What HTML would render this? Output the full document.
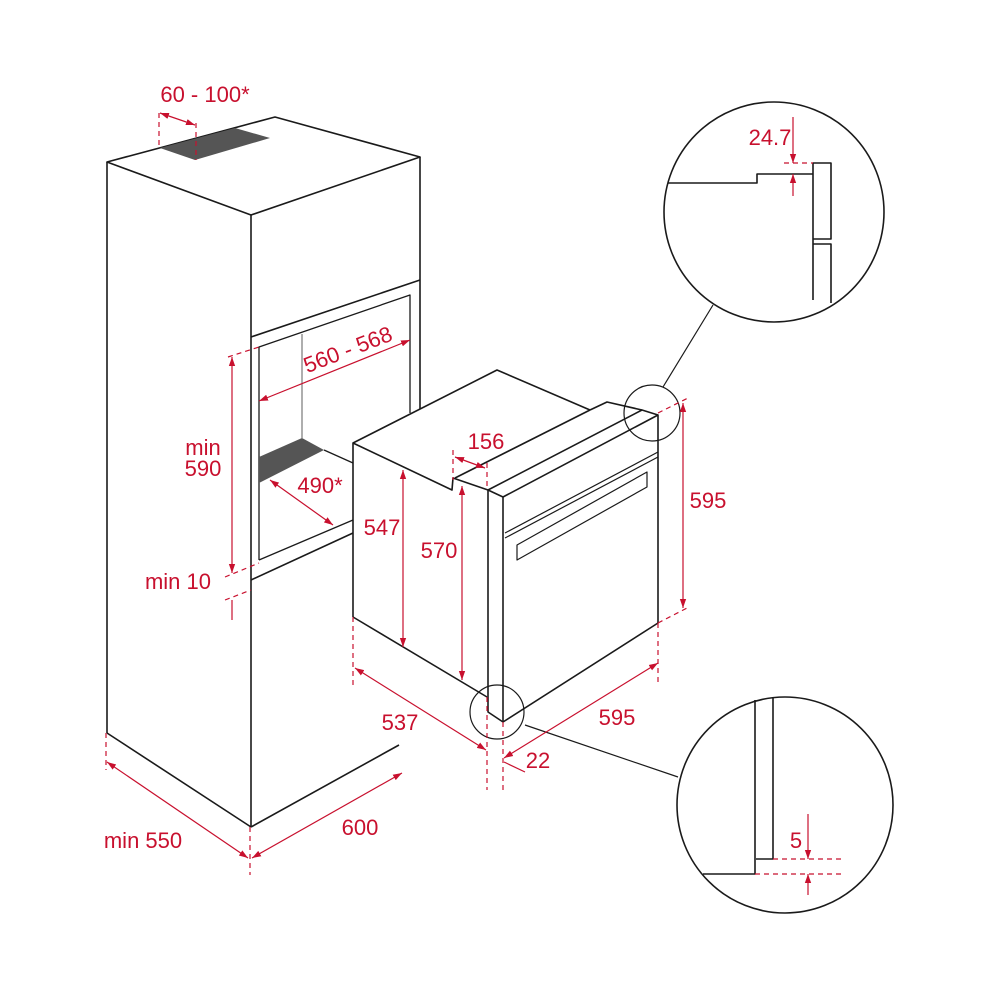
<!DOCTYPE html>
<html><head><meta charset="utf-8"><style>html,body{margin:0;padding:0;background:#fff}svg{display:block}text{font-family:"Liberation Sans",sans-serif;font-size:22px;fill:#c8102e}</style></head>
<body>
<svg width="1000" height="1000" viewBox="0 0 1000 1000" xmlns="http://www.w3.org/2000/svg">
<defs>
<marker id="a" viewBox="0 0 10 10" refX="10" refY="5" markerWidth="9" markerHeight="9" orient="auto-start-reverse" markerUnits="userSpaceOnUse"><path d="M0,1.5 L10,5 L0,8.5 z" fill="#c8102e"/></marker>
</defs>
<g fill="none" stroke="#1a1a1a" stroke-width="1.6" stroke-linejoin="round">
<polygon points="107,162 275,117 420,157 251,215"/>
<polygon points="160,148 235,128 270,138 195,160" fill="#555" stroke="none"/>
<line x1="107" y1="162" x2="107" y2="733"/>
<line x1="251" y1="215" x2="251" y2="827"/>
<line x1="107" y1="733" x2="251" y2="827"/>
<line x1="251" y1="827" x2="399" y2="745"/>
<line x1="420" y1="157" x2="420" y2="413"/>
<line x1="251" y1="337" x2="420" y2="280"/>
<polyline points="259,560 259,347 410,295 410,413" stroke-width="1.3"/>
<line x1="302" y1="334" x2="302" y2="438" stroke="#777" stroke-width="1.2"/>
<polygon points="259,457 302,438 324,450 259,483" fill="#555" stroke="none"/>
<line x1="324" y1="450" x2="353" y2="463" stroke-width="1.3"/>
<line x1="259" y1="560" x2="353" y2="520" stroke-width="1.3"/>
<line x1="251" y1="580" x2="353" y2="533"/>
<polygon points="353,443 497,370 590,410 607,402 642,410 488,490 488,712 487,697 353,617" fill="#fff" stroke="none"/>
<polyline points="353,617 353,443 497,370 590,410"/>
<polyline points="590,410 607,402 642,410"/>
<polyline points="353,443 452,490 453,478 488,490"/>
<line x1="455" y1="478" x2="590" y2="410"/>
<line x1="353" y1="617" x2="487" y2="697"/>
<polygon points="488,490 642,410 658,415 658,623 503,722 488,712" fill="#fff"/>
<polyline points="488,490 503,497 658,415"/>
<line x1="503" y1="497" x2="503" y2="722"/>
<line x1="505" y1="533" x2="658" y2="452" stroke-width="1.2"/>
<line x1="505" y1="538" x2="658" y2="457" stroke-width="1.2"/>
<polygon points="517,545 647,472 647,487 517,560" stroke-width="1.2"/>
<circle cx="652" cy="413" r="28" stroke-width="1.2"/>
<circle cx="497" cy="712" r="27" stroke-width="1.2"/>
<line x1="663" y1="387" x2="713" y2="305" stroke-width="1.2"/>
<line x1="525" y1="725" x2="678" y2="777" stroke-width="1.2"/>
<circle cx="774" cy="212" r="110" fill="#fff"/>
<circle cx="785" cy="805" r="108" fill="#fff"/>
<polyline points="668,183 757,183 757,174 813,174"/>
<polyline points="813,300 813,163 831,163 831,239 813,239"/>
<polyline points="813,244 831,244 831,303"/>
<polyline points="755,700 755,874 703,874"/>
<polyline points="773,697 773,859 756,859"/>
</g>
<g fill="none" stroke="#c8102e" stroke-width="1.2">
<g stroke-dasharray="5,4">
<line x1="159" y1="113" x2="159" y2="148"/><line x1="196" y1="123" x2="196" y2="160"/>
<line x1="228" y1="357" x2="259" y2="347"/>
<line x1="225" y1="577" x2="259" y2="563"/><line x1="225" y1="600" x2="251" y2="590"/>
<line x1="106" y1="733" x2="106" y2="770"/><line x1="250" y1="827" x2="250" y2="875"/>
<line x1="453" y1="450" x2="453" y2="480"/><line x1="487" y1="463" x2="487" y2="490"/>
<line x1="353" y1="617" x2="353" y2="688"/><line x1="487" y1="697" x2="487" y2="790"/><line x1="503" y1="722" x2="503" y2="790"/>
<line x1="658" y1="413" x2="690" y2="397"/><line x1="658" y1="623" x2="687" y2="608"/>
<line x1="658" y1="623" x2="658" y2="685"/>
<line x1="784" y1="163" x2="813" y2="163"/>
<line x1="773" y1="859" x2="843" y2="859"/><line x1="755" y1="874" x2="843" y2="874"/>
</g>
<line x1="160" y1="113" x2="195" y2="125" marker-start="url(#a)" marker-end="url(#a)"/>
<line x1="259" y1="401" x2="410" y2="340" marker-start="url(#a)" marker-end="url(#a)"/>
<line x1="232" y1="357" x2="232" y2="573" marker-start="url(#a)" marker-end="url(#a)"/>
<line x1="232" y1="600" x2="232" y2="620"/>
<line x1="270" y1="480" x2="333" y2="525" marker-start="url(#a)" marker-end="url(#a)"/>
<line x1="107" y1="762" x2="248" y2="858" marker-start="url(#a)" marker-end="url(#a)"/>
<line x1="252" y1="858" x2="402" y2="773" marker-start="url(#a)" marker-end="url(#a)"/>
<line x1="455" y1="457" x2="485" y2="468" marker-start="url(#a)" marker-end="url(#a)"/>
<line x1="403" y1="470" x2="403" y2="647" marker-start="url(#a)" marker-end="url(#a)"/>
<line x1="462" y1="486" x2="462" y2="680" marker-start="url(#a)" marker-end="url(#a)"/>
<line x1="683" y1="403" x2="683" y2="608" marker-start="url(#a)" marker-end="url(#a)"/>
<line x1="355" y1="668" x2="486" y2="750" marker-start="url(#a)" marker-end="url(#a)"/>
<line x1="504" y1="758" x2="658" y2="663" marker-start="url(#a)" marker-end="url(#a)"/>
<line x1="504" y1="762" x2="525" y2="772"/>
<line x1="793" y1="117" x2="793" y2="163" marker-end="url(#a)"/>
<line x1="793" y1="196" x2="793" y2="174" marker-end="url(#a)"/>
<line x1="808" y1="814" x2="808" y2="859" marker-end="url(#a)"/>
<line x1="808" y1="895" x2="808" y2="874" marker-end="url(#a)"/>
</g>
<g text-anchor="middle">
<text x="205" y="102">60 - 100*</text>
<text x="348" y="357" transform="rotate(-21 348 350)">560 - 568</text>
<text x="203" y="455">min</text>
<text x="203" y="476">590</text>
<text x="178" y="589">min 10</text>
<text x="320" y="493">490*</text>
<text x="382" y="535">547</text>
<text x="439" y="558">570</text>
<text x="486" y="449">156</text>
<text x="708" y="508">595</text>
<text x="400" y="730">537</text>
<text x="617" y="725">595</text>
<text x="538" y="768">22</text>
<text x="143" y="848">min 550</text>
<text x="360" y="835">600</text>
<text x="770" y="145">24.7</text>
<text x="796" y="848">5</text>
</g>
</svg>
</body></html>
